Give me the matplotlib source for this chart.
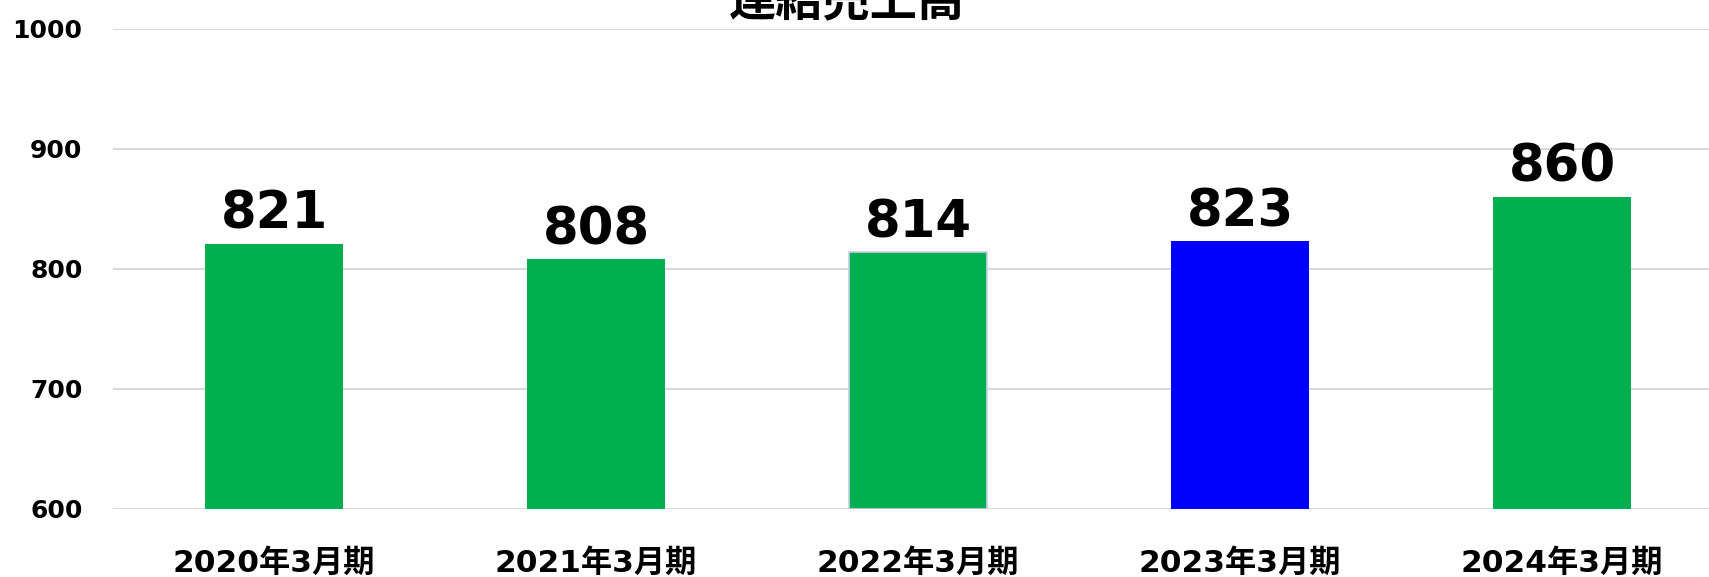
import matplotlib
matplotlib.use("Agg")
import matplotlib.pyplot as plt

categories = ["2020年3月期", "2021年3月期", "2022年3月期", "2023年3月期", "2024年3月期"]
values = [821, 808, 814, 823, 860]
colors = ["#00B050", "#00B050", "#00B050", "#0000FF", "#00B050"]
edges = ["none", "none", "#c9cde6", "none", "none"]
yticks = [600, 700, 800, 900, 1000]
title = "連結売上高"

fam = ["DejaVu Sans", "Noto Sans CJK JP"]

W, H = 1709, 577
fig = plt.figure(figsize=(W / 100, H / 100), dpi=100)
ax = fig.add_axes([113 / W, (H - 509) / H, 1610 / W, 480 / H])

x = list(range(len(categories)))
bars = ax.bar(x, [v - 600 for v in values], bottom=600, width=0.43, color=colors, zorder=3)
for b, e in zip(bars, edges):
    if e != "none":
        b.set_edgecolor(e)
        b.set_linewidth(1.2)

for xi, v in zip(x, values):
    ax.annotate(str(v), (xi, v), xytext=(0, 3), textcoords="offset points",
                ha="center", va="bottom", fontsize=37, fontweight="bold",
                family=fam, color="black", zorder=4)

ax.set_xlim(-0.5, len(categories) - 0.5)
ax.set_ylim(600, 1000)
ax.set_yticks(yticks)
ax.set_yticklabels([str(t) for t in yticks], fontsize=18, fontweight="bold", family=fam)
ax.set_xticks(x)
ax.set_xticklabels(categories, fontsize=22.5, fontweight="bold", family=fam)
ax.tick_params(axis="y", length=0, pad=22)
ax.tick_params(axis="x", length=0, pad=28)
ax.grid(axis="y", color="#d9d9d9", linewidth=1.5, zorder=0)
for s in ax.spines.values():
    s.set_visible(False)

fig.text(847 / W, (H - 15) / H, title, ha="center", va="baseline", fontsize=34,
         fontweight="bold", family=["Noto Sans CJK JP", "DejaVu Sans"])

fig.savefig("out.png", dpi=100)
